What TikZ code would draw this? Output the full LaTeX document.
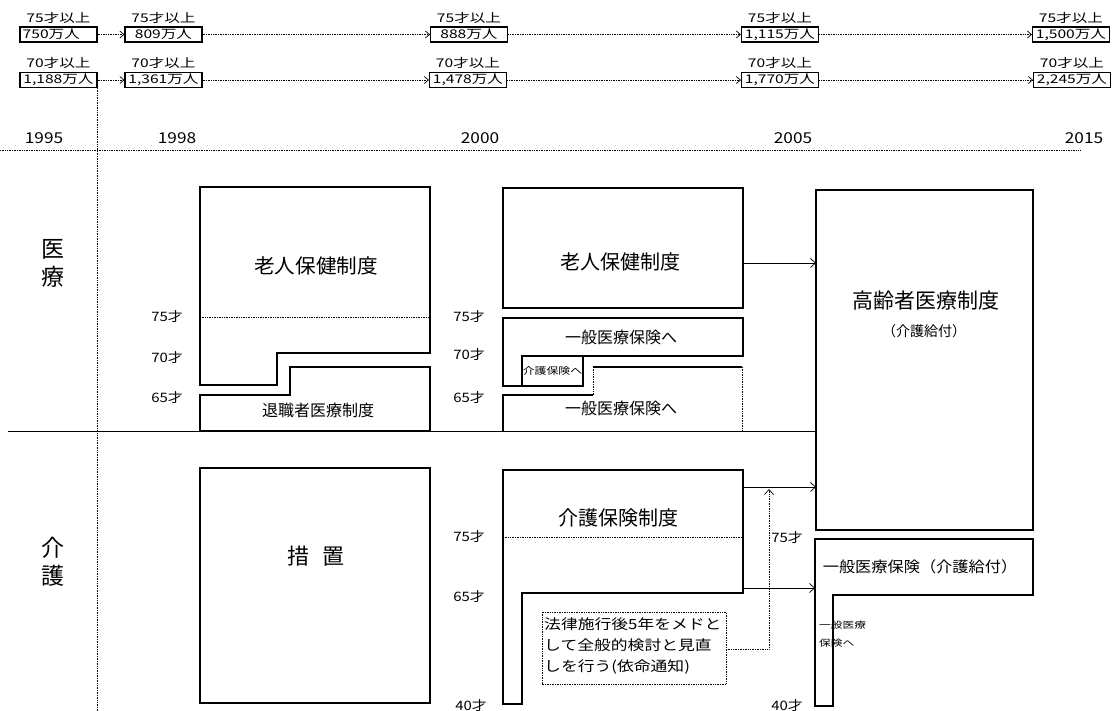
\documentclass[tikz,border=0pt]{standalone}
\usepackage{fontspec}
\setmainfont{Noto Sans CJK JP}
\usepackage{graphicx}
\usetikzlibrary{arrows.meta}
\newcommand\fsz[1]{\fontsize{#1}{#1}\selectfont}
\newcommand\wx[2]{\scalebox{#1}[1]{#2}}
\begin{document}
\begin{tikzpicture}[x=1pt,y=-1pt,
  numbox/.style={draw, line width=1.2pt, minimum width=77pt, minimum height=15pt, inner sep=0pt, font=\fsz{12}},
  toplab/.style={inner sep=0pt, font=\fsz{12}, anchor=south, yshift=3pt},
  flow/.style={densely dotted, line width=0.7pt, -{Straight Barb[length=4pt,width=7pt]}},
  solidarrow/.style={line width=0.7pt, -{Straight Barb[length=5pt,width=9pt]}},
  blk/.style={line width=1.2pt},
  thin dot/.style={densely dotted, line width=0.7pt},
  agelab/.style={inner sep=0pt, anchor=east, font=\fsz{13}},
  year/.style={inner sep=0pt, font=\fsz{15}},
  side/.style={inner sep=0pt, font=\fsz{23}},
  big/.style={inner sep=0pt, font=\fsz{20}},
  mid/.style={inner sep=0pt, font=\fsz{16}},
  small/.style={inner sep=0pt, font=\fsz{9.5}},
  note/.style={inner sep=0pt, anchor=west, font=\fsz{14}}
]
\useasboundingbox (0,0) rectangle (1112,711);

% ---- population boxes ----
\node[numbox] (b1) at (58.5,34.5) {\wx{1.3}{\makebox[55pt][l]{750万人}}};
\node[numbox] (b2) at (163.5,34.5) {\wx{1.3}{809万人}};
\node[numbox] (b3) at (469,34.5) {\wx{1.3}{888万人}};
\node[numbox] (b4) at (780,34.5) {\wx{1.3}{1,115万人}};
\node[numbox] (b5) at (1071,34.5) {\wx{1.3}{1,500万人}};
\node[numbox] (c1) at (58.5,80) {\wx{1.3}{1,188万人}};
\node[numbox] (c2) at (163.5,80) {\wx{1.3}{1,361万人}};
\node[numbox] (c3) at (468,80) {\wx{1.3}{1,478万人}};
\node[numbox] (c4) at (780,80) {\wx{1.3}{1,770万人}};
\node[numbox] (c5) at (1072,80) {\wx{1.3}{2,245万人}};
\foreach \n in {b1,b2,b3,b4,b5} {\node[toplab] (l\n) at (\n.north) {\wx{1.3}{75才以上}};}
\foreach \n in {c1,c2,c3,c4,c5} {\node[toplab] (l\n) at (\n.north) {\wx{1.3}{70才以上}};}
\draw[flow] (b1) -- (b2);
\draw[flow] (b2) -- (b3);
\draw[flow] (b3) -- (b4);
\draw[flow] (b4) -- (b5);
\draw[flow] (c1) -- (c2);
\draw[flow] (c2) -- (c3);
\draw[flow] (c3) -- (c4);
\draw[flow] (c4) -- (c5);

% ---- years ----
\node[year] (y1995) at (44,138) {\wx{1.15}{1995}};
\node[year] (y1998) at (177,138) {\wx{1.15}{1998}};
\node[year] (y2000) at (480,138) {\wx{1.15}{2000}};
\node[year] (y2005) at (793,138) {\wx{1.15}{2005}};
\node[year] (y2015) at (1084,138) {\wx{1.15}{2015}};
\draw[thin dot] (0,150) -- (1080,150);
\coordinate (vbot) at (96,711);
\draw[thin dot] (c1.south east) -- (c1.south east |- vbot);

% ---- main separator ----
\draw[line width=0.9pt] (8,431) -- (816,431);

% ---- side labels ----
\node[side] (i1) at (53,249) {医};
\node[side] (i2) at (53,277) {療};
\node[side] (k1) at (53,548) {介};
\node[side] (k2) at (53,576) {護};

% ---- 1998 medical ----
\draw[blk] (200,187) -- (430,187) -- (430,353) -- (277,353) -- (277,385) -- (200,385) -- cycle;
\draw[thin dot] (200,317) -- (430,317);
\draw[blk] (200,395) -- (290,395) -- (290,367) -- (430,367) -- (430,431) -- (200,431) -- cycle;
\node[big] (rj1) at (316,266) {\wx{1.03}{老人保健制度}};
\node[mid] (tai) at (318,410) {退職者医療制度};
\node[agelab] (a75a) at (183,317) {\wx{1.15}{75才}};
\node[agelab] (a70a) at (183,358) {\wx{1.15}{70才}};
\node[agelab] (a65a) at (183,398) {\wx{1.15}{65才}};

% ---- 2000 medical ----
\draw[blk] (503,188) rectangle (743,308);
\node[big] (rj2) at (620,262) {老人保健制度};
\draw[blk] (503,318) -- (743,318) -- (743,356) -- (522,356) -- (522,386) -- (503,386) -- cycle;
\draw[blk] (522,356) rectangle (583,386);
\node[small] (kh) at (552.5,371) {\wx{1.25}{介護保険へ}};
\node[mid] (ip1) at (621,337) {一般医療保険へ};
\draw[blk] (503,431) -- (503,395) -- (593,395);
\draw[thin dot] (593,395) -- (593,367);
\draw[blk] (593,367) -- (742,367);
\draw[thin dot] (742,367) -- (742,431);
\node[mid] (ip2) at (621,408) {一般医療保険へ};
\node[agelab] (a75b) at (485,317) {\wx{1.15}{75才}};
\node[agelab] (a70b) at (485,355) {\wx{1.15}{70才}};
\node[agelab] (a65b) at (485,398) {\wx{1.15}{65才}};

% ---- 2005 elderly medical system ----
\draw[blk] (816,190) rectangle (1033,530);
\node[inner sep=0pt, font=\fsz{21}] (kr) at (926,301) {高齢者医療制度};
\node[inner sep=0pt, font=\fsz{14}] (krs) at (924,331) {（介護給付）};
\coordinate (rjout) at (743,263);
\coordinate (krin) at (816,263);
\draw[solidarrow] (rjout) -- (krin);

% ---- 1998 care ----
\draw[blk] (200,468) rectangle (430,703);
\node[inner sep=0pt, font=\fsz{22}] (sochi) at (316,556) {措\hspace{13pt}置};

% ---- 2000 care ----
\draw[blk] (503,470) -- (743,470) -- (743,593) -- (522,593) -- (522,704) -- (503,704) -- cycle;
\draw[thin dot] (503,537) -- (743,537);
\node[big] (kh2) at (618,518) {介護保険制度};
\node[agelab] (a75c) at (485,537) {\wx{1.15}{75才}};
\node[agelab] (a65c) at (485,597) {\wx{1.15}{65才}};
\node[agelab] (a40c) at (487,706) {\wx{1.15}{40才}};
\coordinate (kout1) at (743,487);
\coordinate (kin1) at (816,487);
\coordinate (kout2) at (743,588);
\coordinate (kin2) at (815,588);
\draw[solidarrow] (kout1) -- (kin1);
\draw[solidarrow] (kout2) -- (kin2);

% ---- review note ----
\draw[thin dot] (542,612) rectangle (726,684);
\node[note] (n1) at (544,624) {\wx{1.2}{法律施行後5年をメドと}};
\node[note] (n2) at (544,645) {\wx{1.2}{して全般的検討と見直}};
\node[note] (n3) at (544,667) {\wx{1.2}{しを行う(依命通知)}};
\coordinate (nout) at (726,649);
\coordinate (ncorner) at (769,649);
\coordinate (nup) at (769,489);
\draw[thin dot, -{Straight Barb[length=5pt,width=9pt]}] (nout) -- (ncorner) -- (nup);

% ---- 2005 care ----
\draw[blk] (815,539) -- (1033,539) -- (1033,595) -- (833,595) -- (833,706) -- (815,706) -- cycle;
\node[inner sep=0pt, font=\fsz{15}] (ipk) at (920,567) {\wx{1.08}{一般医療保険（介護給付）}};
\node[small, anchor=west, font=\fsz{9}] (s1) at (819,625) {\wx{1.3}{一般医療}};
\node[small, anchor=west, font=\fsz{9}] (s2) at (819,643) {\wx{1.3}{保険へ}};
\node[agelab] (a75d) at (803,538) {\wx{1.15}{75才}};
\node[agelab] (a40d) at (803,706) {\wx{1.15}{40才}};
\end{tikzpicture}
\end{document}
